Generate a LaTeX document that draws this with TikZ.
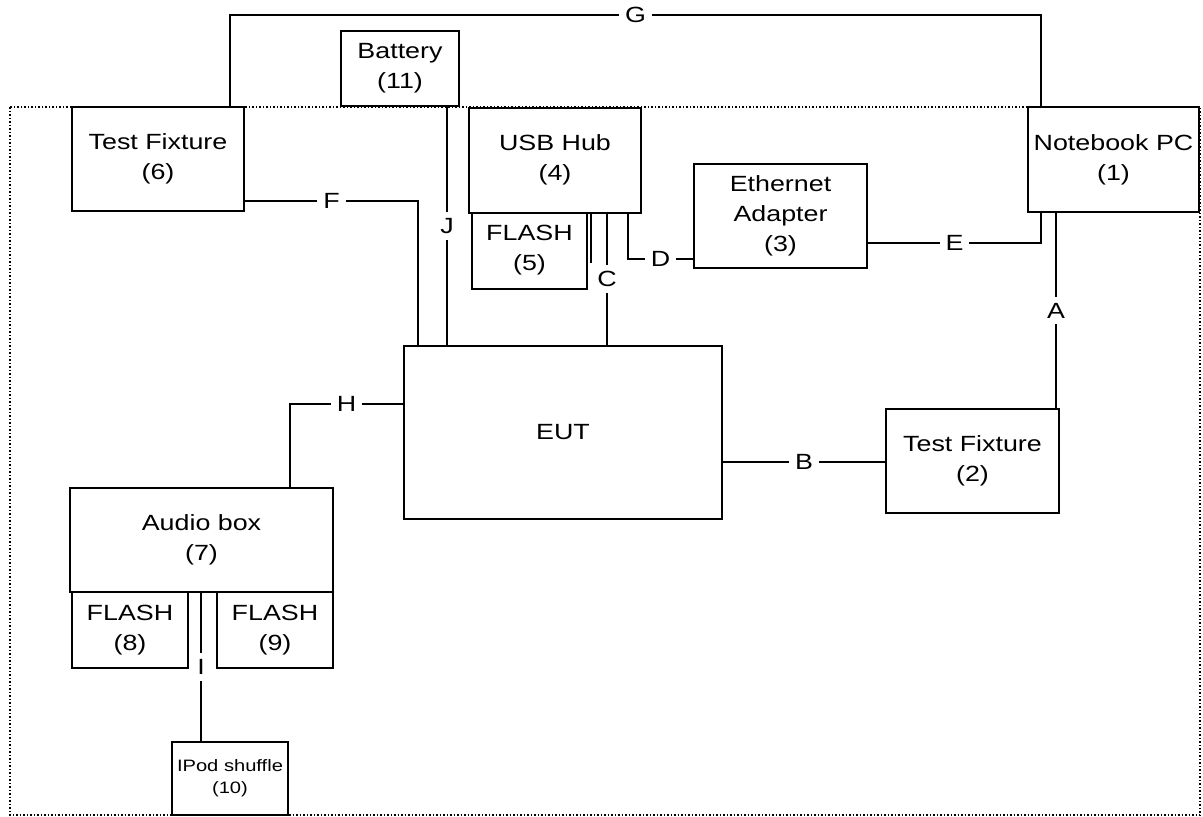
\documentclass[tikz,border=0pt]{standalone}
\usepackage{fontspec}
\setmainfont{Liberation Sans}[FakeStretch=1.22]
\usetikzlibrary{positioning,calc}

\tikzset{
  box/.style={draw, fill=white, line width=2pt, inner sep=0pt, align=center,
    font=\fontsize{22}{30}\selectfont},
  lbl/.style={fill=white, inner sep=6pt, font=\fontsize{22}{30}\selectfont},
  cable/.style={line width=2pt},
}

\begin{document}
\begin{tikzpicture}[x=1pt,y=-1pt]
  \useasboundingbox (0,0) rectangle (1203,817);
  \draw[dotted, line width=1.5pt] (10,107) rectangle (1200,815);

  \node[box, minimum width=172pt, minimum height=104pt] (tf6) at (158,159) {Test Fixture\\(6)};
  \node[box, minimum width=118pt, minimum height=75pt] (bat) at (400,68.5) {Battery\\(11)};
  \node[box, minimum width=172pt, minimum height=105pt] (hub) at (555,160) {USB Hub\\(4)};
  \node[box, minimum width=115pt, minimum height=76pt] (fl5) at (529.5,250.5) {FLASH\\(5)};
  \node[box, minimum width=173pt, minimum height=104pt] (eth) at (780.5,216) {Ethernet\\Adapter\\(3)};
  \node[box, minimum width=171pt, minimum height=105pt] (pc) at (1113.5,159.5) {Notebook PC\\(1)};
  \node[box, minimum width=173pt, minimum height=104pt] (tf2) at (972.5,461) {Test Fixture\\(2)};
  \node[box, minimum width=318pt, minimum height=173pt] (eut) at (563,432.5) {EUT};
  \node[box, minimum width=263pt, minimum height=104pt] (audio) at (201.5,540) {Audio box\\(7)};
  \node[box, minimum width=116pt, minimum height=76pt] (fl8) at (130,630) {FLASH\\(8)};
  \node[box, minimum width=116pt, minimum height=76pt] (fl9) at (275,630) {FLASH\\(9)};
  \node[box, minimum width=116pt, minimum height=73pt, font=\fontsize{16.5}{22}\selectfont] (ipod) at (230,778.5) {IPod shuffle\\(10)};

  % cables
  \coordinate (gL) at (230,15);
  \coordinate (gR) at (1041,15);
  \draw[cable] (tf6.north -| gL) -- (gL) -- node[lbl] {G} (gR) -- (gR |- pc.north);

  \coordinate (fK) at (418,201);
  \draw[cable] (tf6.east |- fK) -- node[lbl] {F} (fK) -- (fK |- eut.north);

  \coordinate (jX) at (447,228);
  \draw[cable] (bat.south -| jX) -- node[lbl] {J} (eut.north -| jX);

  \coordinate (stub) at (591,263);
  \draw[cable] (hub.south -| stub) -- (stub);

  \coordinate (cX) at (607,279);
  \draw[cable] (hub.south -| cX) -- node[lbl] {C} (eut.north -| cX);

  \coordinate (dK) at (628,259);
  \draw[cable] (hub.south -| dK) -- (dK) -- node[lbl] {D} (eth.west |- dK);

  \coordinate (eK) at (1041,243);
  \draw[cable] (eth.east |- eK) -- node[lbl] {E} (eK) -- (eK |- pc.south);

  \coordinate (aX) at (1056,312);
  \draw[cable] (pc.south -| aX) -- node[lbl] {A} (tf2.north -| aX);

  \coordinate (bY) at (804,462);
  \draw[cable] (eut.east |- bY) -- node[lbl] {B} (tf2.west |- bY);

  \coordinate (hK) at (290,404);
  \draw[cable] (eut.west |- hK) -- node[lbl] {H} (hK) -- (hK |- audio.north);

  \coordinate (iX) at (201,667);
  \draw[cable] (audio.south -| iX) -- node[lbl] {I} (ipod.north -| iX);
\end{tikzpicture}
\end{document}
